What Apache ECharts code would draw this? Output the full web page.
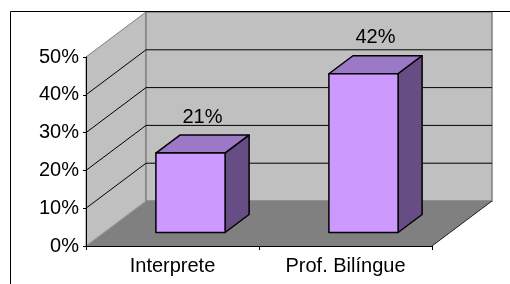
<!DOCTYPE html>
<html>
<head>
<meta charset="utf-8">
<script src="https://cdn.jsdelivr.net/npm/echarts@6/dist/echarts.min.js"></script>
<style>
  html, body { margin: 0; padding: 0; background: #fff; }
  #chart { width: 510px; height: 284px; }
</style>
</head>
<body>
<div id="chart"></div>
<script>
// data
const categories = ['Interprete', 'Prof. Bilíngue'];
const shares = [21, 42];
const yMin = 0;
const yMax = 50;
const yStep = 10;

// 3D look: depth of the box in px, bar position inside that depth
const WALL_DX = 60;
const WALL_DY = 45;
const BAR_FRONT = 0.3;
const BAR_DEPTH = 0.4;
const BAR_WIDTH = 0.4;
const FONT = 'Liberation Sans';
const FONT_SIZE = 20;

const chart = echarts.init(document.getElementById('chart'));

// walls, floor and 3D grid lines
function renderWalls(params, api) {
  const cs = params.coordSys;
  const l = cs.x, r = cs.x + cs.width, t = cs.y, b = cs.y + cs.height;
  const children = [];
  // left wall
  children.push({
    type: 'polygon',
    shape: { points: [[l, b], [l, t], [l + WALL_DX, t - WALL_DY], [l + WALL_DX, b - WALL_DY]] },
    style: { fill: '#c0c0c0', stroke: '#808080', lineWidth: 1 }
  });
  // back wall
  children.push({
    type: 'rect',
    shape: { x: l + WALL_DX, y: t - WALL_DY, width: r - l, height: b - t },
    style: { fill: '#c0c0c0', stroke: '#808080', lineWidth: 1.5 }
  });
  // floor
  children.push({
    type: 'polygon',
    shape: { points: [[l, b], [r, b], [r + WALL_DX, b - WALL_DY], [l + WALL_DX, b - WALL_DY]] },
    style: { fill: '#808080' }
  });
  children.push({
    type: 'line',
    shape: { x1: r, y1: b, x2: r + WALL_DX, y2: b - WALL_DY },
    style: { stroke: '#222', lineWidth: 1 }
  });
  children.push({
    type: 'line',
    shape: { x1: l, y1: b, x2: l + WALL_DX, y2: b - WALL_DY },
    style: { stroke: '#a0a0a0', lineWidth: 1 }
  });
  // grid lines
  for (let v = yMin + yStep; v < yMax; v += yStep) {
    const y = api.coord([0, v])[1];
    children.push({
      type: 'polyline',
      shape: { points: [[l, y], [l + WALL_DX, y - WALL_DY], [r + WALL_DX, y - WALL_DY]] },
      style: { stroke: '#000', lineWidth: 1, fill: null }
    });
  }
  return { type: 'group', children: children };
}

function renderBar(params, api) {
  const idx = api.value(0);
  const val = api.value(1);
  const base = api.coord([idx, 0]);
  const top = api.coord([idx, val]);
  const w = api.size([1, 0])[0] * BAR_WIDTH;
  const ox = WALL_DX * BAR_FRONT, oy = WALL_DY * BAR_FRONT;
  const dx = WALL_DX * BAR_DEPTH, dy = WALL_DY * BAR_DEPTH;
  const x0 = base[0] - w / 2 + ox;
  const x1 = x0 + w;
  const yb = base[1] - oy;
  const yt = top[1] - oy;
  const edge = { stroke: '#000', lineWidth: 1.5, lineJoin: 'round' };
  return {
    type: 'group',
    children: [
      {
        type: 'polygon',
        shape: { points: [[x0, yt], [x1, yt], [x1 + dx, yt - dy], [x0 + dx, yt - dy]] },
        style: Object.assign({ fill: '#9b79c6' }, edge)
      },
      {
        type: 'polygon',
        shape: { points: [[x1, yt], [x1 + dx, yt - dy], [x1 + dx, yb - dy], [x1, yb]] },
        style: Object.assign({ fill: '#664e84' }, edge)
      },
      {
        type: 'rect',
        shape: { x: x0, y: yt, width: w, height: yb - yt },
        style: Object.assign({ fill: '#cc99ff' }, edge)
      },
      {
        type: 'text',
        style: {
          x: x0 + w / 2 + dx / 2,
          y: yt - dy - 18,
          text: val + '%',
          fill: '#000',
          font: FONT_SIZE + 'px "' + FONT + '"',
          align: 'center',
          verticalAlign: 'middle'
        }
      }
    ]
  };
}

const option = {
  backgroundColor: '#fff',
  animation: false,
  graphic: [{
    type: 'rect',
    shape: { x: 10.5, y: 11.5, width: 600, height: 400 },
    style: { fill: null, stroke: '#000', lineWidth: 1 },
    z: 100
  }],
  grid: { left: 86, right: 78, top: 57, bottom: 38 },
  xAxis: {
    type: 'category',
    data: categories,
    z: 5,
    axisLine: { lineStyle: { color: '#000', width: 1 } },
    axisTick: { show: true, length: 4, lineStyle: { color: '#000' } },
    axisLabel: { color: '#000', fontFamily: FONT, fontSize: FONT_SIZE, margin: 10 },
    splitLine: { show: false }
  },
  yAxis: {
    type: 'value',
    min: yMin,
    max: yMax,
    interval: yStep,
    z: 5,
    axisLine: { show: true, lineStyle: { color: '#000', width: 1 } },
    axisTick: { show: true, length: 3, lineStyle: { color: '#000' } },
    axisLabel: { color: '#000', fontFamily: FONT, fontSize: FONT_SIZE, margin: 7, formatter: '{value}%' },
    splitLine: { show: false }
  },
  series: [
    {
      name: 'walls',
      type: 'custom',
      renderItem: renderWalls,
      data: [[0, 0]],
      z: 1,
      silent: true
    },
    {
      name: 'bars',
      type: 'custom',
      renderItem: renderBar,
      data: shares.map((v, i) => [i, v]),
      z: 3
    }
  ]
};

chart.setOption(option);
</script>
</body>
</html>
